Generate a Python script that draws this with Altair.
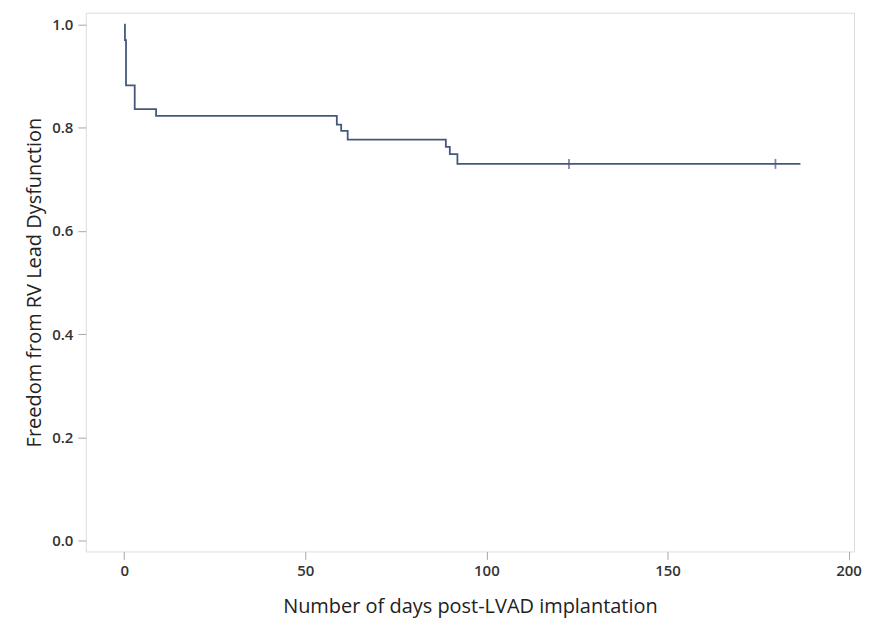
import altair as alt
import pandas as pd

# Kaplan-Meier step points (days, survival)
days = [0.0, 0.2, 0.5, 2.9, 8.8, 58.7, 59.9, 61.7, 88.8, 89.9, 92.0, 186.7]
surv = [1.000, 0.970, 0.882, 0.836, 0.823, 0.806, 0.794, 0.777, 0.763, 0.749, 0.730, 0.730]

# censored observations
cens_days = [122.8, 179.8]
cens_surv = [0.730, 0.730]

x_ticks = [0, 50, 100, 150, 200]
y_ticks = [0.0, 0.2, 0.4, 0.6, 0.8, 1.0]

line_df = pd.DataFrame({"days": days, "surv": surv})
cens_df = pd.DataFrame({"days": cens_days, "surv": cens_surv})

COLOR = "#46577f"
FONT = "Open Sans"

x_enc = alt.X(
    "days:Q",
    scale=alt.Scale(domain=[-10.6, 201.5], nice=False, zero=False),
    axis=alt.Axis(
        values=x_ticks,
        title="Number of days post-LVAD implantation",
        grid=False,
        domain=False,
        tickSize=8,
        tickColor="#a8a8a8",
        labelPadding=4,
        labelFontSize=15,
        labelFont=FONT,
        labelFontWeight=600,
        labelColor="#333333",
        titleFont=FONT,
        titleFontSize=20,
        titleFontWeight="normal",
        titleColor="#222222",
        titlePadding=18,
    ),
)
y_enc = alt.Y(
    "surv:Q",
    scale=alt.Scale(domain=[-0.021, 1.023], nice=False, zero=False),
    axis=alt.Axis(
        values=y_ticks,
        format=".1f",
        title="Freedom from RV Lead Dysfunction",
        grid=False,
        domain=False,
        tickSize=8,
        tickColor="#a8a8a8",
        labelPadding=5,
        labelFontSize=15,
        labelFont=FONT,
        labelFontWeight=600,
        labelColor="#333333",
        titleFont=FONT,
        titleFontSize=20,
        titleFontWeight="normal",
        titleColor="#222222",
        titlePadding=7,
    ),
)

line = alt.Chart(line_df).mark_line(
    interpolate="step-after", color=COLOR, strokeWidth=1.8
).encode(x=x_enc, y=y_enc)

cens = alt.Chart(cens_df).mark_tick(
    orient="vertical", color=COLOR, size=10, thickness=1.8
).encode(x=x_enc, y=y_enc)

chart = (
    alt.layer(line, cens)
    .properties(
        width=770,
        height=540,
        autosize=alt.AutoSizeParams(type="none"),
        padding={"left": 78, "top": 4, "right": 8, "bottom": 74},
    )
    .configure_view(stroke="#b4b4b4", strokeWidth=1.5)
    .configure(background="white")
)

chart.save("out.html", embed_options={"renderer": "svg", "actions": False})
